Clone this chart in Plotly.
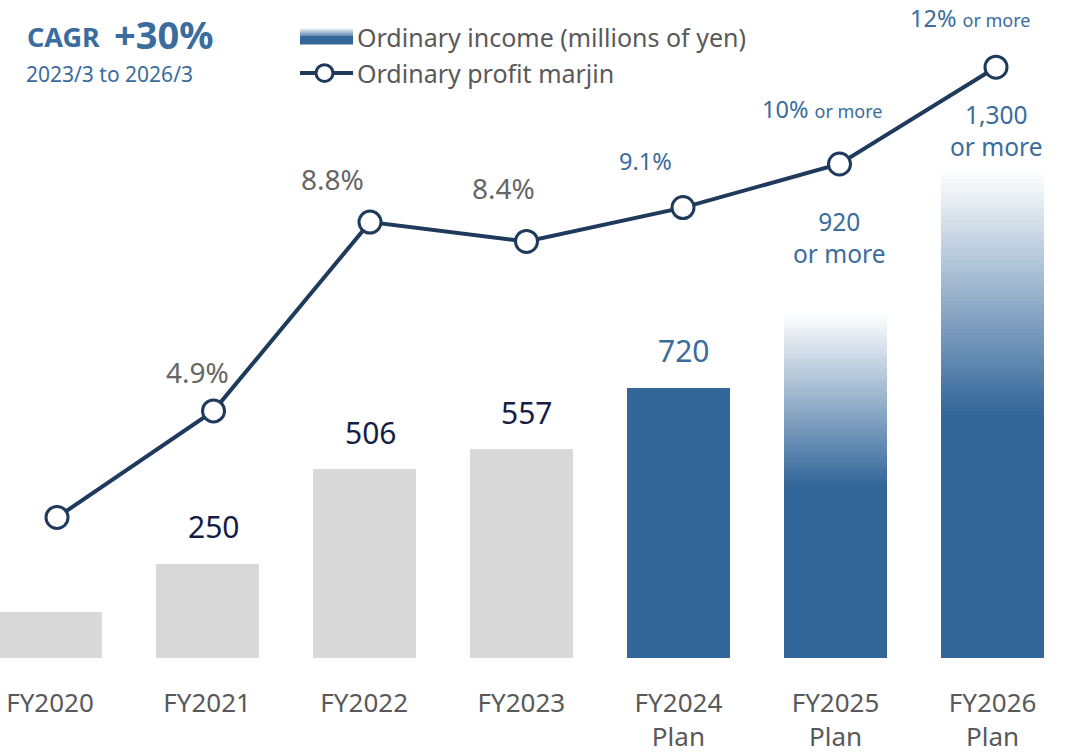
import plotly.graph_objects as go

# ---------------- data ----------------
categories = ["FY2020", "FY2021", "FY2022", "FY2023", "FY2024", "FY2025", "FY2026"]
tick_labels = ["FY2020", "FY2021", "FY2022", "FY2023",
               "FY2024<br>Plan", "FY2025<br>Plan", "FY2026<br>Plan"]
income = [124, 250, 506, 557, 720, 920, 1300]          # millions of yen
margin = [2.7, 4.9, 8.8, 8.4, 9.1, 10.0, 12.0]          # %
income_labels = ["", "250", "506", "557", "720", "920<br>or more", "1,300<br>or more"]
margin_labels = ["", "4.9%", "8.8%", "8.4%", "9.1%", "10% <span style='font-size:18px'>or more</span>",
                 "12% <span style='font-size:18px'>or more</span>"]
is_plan = [False, False, False, False, True, True, True]
is_target = [False, False, False, False, False, True, True]   # faded "or more" bars

# ---------------- style ----------------
W, H = 1068, 754
PLOT_H = 666
FONT = "Noto Sans"
GRAY_BAR = "#d9d9d9"
BLUE = "#336699"
NAVY = "#1f3a5c"
TXT_BLUE = "#3a6c9e"
TXT_GRAY = "#666666"
TXT_DARK = "#161d45"
TICK_GRAY = "#595959"

def mix(c1, c2, t):
    a = [int(c1[i:i + 2], 16) for i in (1, 3, 5)]
    b = [int(c2[i:i + 2], 16) for i in (1, 3, 5)]
    return "rgb(%d,%d,%d)" % tuple(round(a[k] + (b[k] - a[k]) * t) for k in range(3))

idx = list(range(len(categories)))
bar_w = 0.656
SOLID_FRAC = 0.5
N_SEG = 60

fig = go.Figure()

# solid part of bars
solid_y = [v * SOLID_FRAC if t else v for v, t in zip(income, is_target)]
solid_col = [BLUE if p else GRAY_BAR for p in is_plan]
fig.add_trace(go.Bar(x=idx, y=solid_y, width=bar_w, marker=dict(color=solid_col, line=dict(width=0)),
                     hoverinfo="skip", showlegend=False))

# gradient part of target bars
gx, gy, gb, gc = [], [], [], []
for i, (v, t) in enumerate(zip(income, is_target)):
    if not t:
        continue
    seg = v * (1 - SOLID_FRAC) / N_SEG
    for k in range(N_SEG):
        gx.append(i)
        gb.append(v * SOLID_FRAC + k * seg)
        gy.append(seg * 1.02)
        gc.append(mix(BLUE, "#ffffff", (k + 0.5) / N_SEG))
fig.add_trace(go.Bar(x=gx, y=gy, base=gb, width=bar_w, marker=dict(color=gc, line=dict(width=0)),
                     hoverinfo="skip", showlegend=False))

# profit margin line (own x axis)
fig.add_trace(go.Scatter(x=idx, y=margin, xaxis="x2", yaxis="y2", mode="lines+markers",
                         line=dict(color=NAVY, width=4),
                         marker=dict(size=22, color="white", line=dict(color=NAVY, width=3)),
                         hoverinfo="skip", showlegend=False))

# ---------------- annotations ----------------
ann = []
bar_shift = [0, 37.5, 36.5, 37, 37.5, 76, 41]
for i in idx:
    if not income_labels[i]:
        continue
    if is_target[i]:
        fs, col = 24.5, TXT_BLUE
    elif is_plan[i]:
        fs, col = 30, TXT_BLUE
    else:
        fs, col = 30, TXT_DARK
    ann.append(dict(x=i, y=income[i], xref="x2", yref="y", text=income_labels[i], showarrow=False,
                    yanchor="middle", yshift=bar_shift[i], font=dict(size=fs, color=col, family=FONT)))

m_dx = [0, -16, -38, -23.5, -38, -18, -26]
m_dy = [0, 39, 43, 53.5, 47, 55, 49]
for i in idx:
    if not margin_labels[i]:
        continue
    if is_plan[i]:
        fs, col = 23.5, TXT_BLUE
    else:
        fs, col = 28, TXT_GRAY
    ann.append(dict(x=i, y=margin[i], xref="x2", yref="y2", text=margin_labels[i], showarrow=False,
                    yanchor="middle", xshift=m_dx[i], yshift=m_dy[i],
                    font=dict(size=fs, color=col, family=FONT)))

def px(x):
    return x / W

def py(y):
    return 1 - y / PLOT_H

# CAGR block
ann.append(dict(x=px(25), y=py(37), xref="paper", yref="paper", xanchor="left", yanchor="middle",
                showarrow=False, text="<b>CAGR</b>",
                font=dict(size=27, color=TXT_BLUE, family=FONT)))
ann.append(dict(x=px(112), y=py(34), xref="paper", yref="paper", xanchor="left", yanchor="middle",
                showarrow=False, text="<b>+30%</b>",
                font=dict(size=38, color=TXT_BLUE, family=FONT)))
ann.append(dict(x=px(24), y=py(75), xref="paper", yref="paper", xanchor="left", yanchor="middle",
                showarrow=False, text="2023/3 to 2026/3",
                font=dict(size=21, color=TXT_BLUE, family=FONT)))

# legend texts
ann.append(dict(x=px(355), y=py(37), xref="paper", yref="paper", xanchor="left", yanchor="middle",
                showarrow=False, text="Ordinary income (millions of yen)",
                font=dict(size=25, color=TICK_GRAY, family=FONT)))
ann.append(dict(x=px(355), y=py(74), xref="paper", yref="paper", xanchor="left", yanchor="middle",
                showarrow=False, text="Ordinary profit marjin",
                font=dict(size=25, color=TICK_GRAY, family=FONT)))

# legend icons
shapes = []
shapes.append(dict(type="rect", xref="paper", yref="paper", x0=px(300), x1=px(353),
                   y0=py(45), y1=py(36), fillcolor=BLUE, line=dict(width=0)))
for k in range(8):
    shapes.append(dict(type="rect", xref="paper", yref="paper", x0=px(300), x1=px(353),
                       y0=py(36 - k), y1=py(35 - k), fillcolor=mix(BLUE, "#ffffff", (k + 0.5) / 8),
                       line=dict(width=0)))
shapes.append(dict(type="line", xref="paper", yref="paper", x0=px(300), x1=px(353),
                   y0=py(74), y1=py(74), line=dict(color=NAVY, width=4)))
shapes.append(dict(type="circle", xref="paper", yref="paper", x0=px(316), x1=px(333),
                   y0=py(82.5), y1=py(65.5), fillcolor="white", line=dict(color=NAVY, width=3)))

# ---------------- layout ----------------
fig.update_layout(
    width=W, height=H,
    margin=dict(l=0, r=0, t=0, b=H - PLOT_H),
    paper_bgcolor="white", plot_bgcolor="white",
    barmode="overlay", bargap=0,
    showlegend=False,
    annotations=ann, shapes=shapes,
    xaxis=dict(range=[-50 / 157.1, (W - 50) / 157.1], tickmode="array", tickvals=idx,
               ticktext=tick_labels, showgrid=False, zeroline=False, showline=False, ticks="",
               ticklabelstandoff=27, tickfont=dict(size=26, color=TICK_GRAY, family=FONT)),
    xaxis2=dict(range=[-57 / 156.5, (W - 57) / 156.5], overlaying="x", visible=False),
    yaxis=dict(range=[0, PLOT_H / 0.379], visible=False, showgrid=False, zeroline=False),
    yaxis2=dict(range=[-(PLOT_H - 656) / 49, 656 / 49], overlaying="y", visible=False,
                showgrid=False, zeroline=False),
)

fig.write_html("out.html", config={"displayModeBar": False},
               post_script="document.body.style.margin='0px';")
